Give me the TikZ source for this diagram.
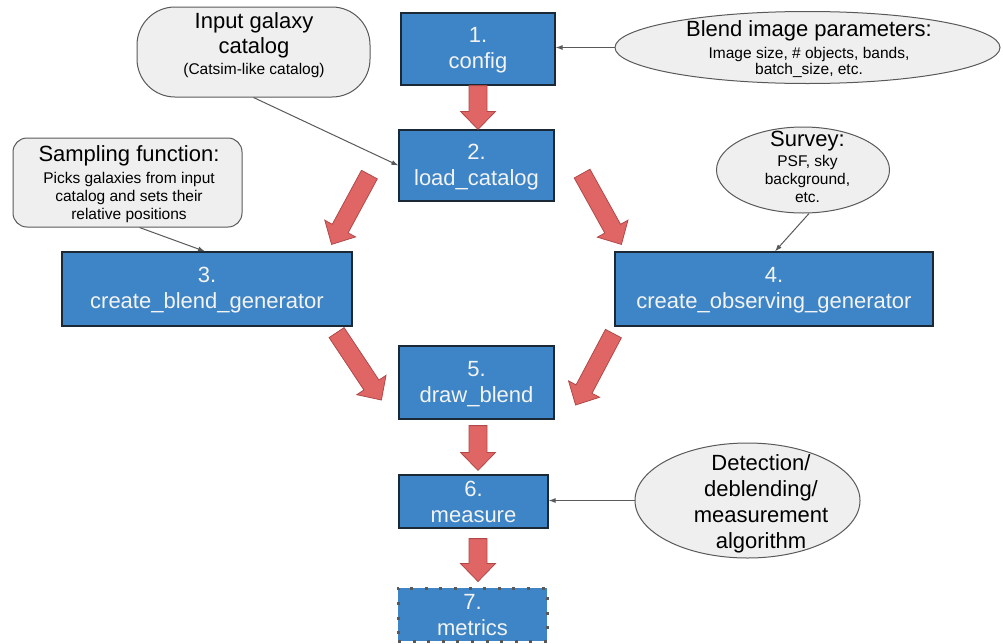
\documentclass[tikz,border=0pt]{standalone}
\usepackage{fontspec}
\setmainfont{Liberation Sans}
\usetikzlibrary{calc,shapes.geometric,arrows.meta}
\definecolor{boxblue}{HTML}{3D85C6}
\definecolor{boxedge}{HTML}{1B2836}
\definecolor{boxtext}{HTML}{F3F3F3}
\definecolor{fatfill}{HTML}{E06666}
\definecolor{fatedge}{HTML}{B04848}
\definecolor{callfill}{HTML}{EFEFEF}
\definecolor{calledge}{HTML}{595959}
\newcommand\bx{\rule[-2.2pt]{0pt}{20.7pt}}
\newcommand\sm{\fontsize{15.5}{18}\selectfont}
\newcommand\fatarrow[2]{%
  \path #1 coordinate (fas);
  \path #2 coordinate (fae);
  \path ($(fae)!18pt!(fas)$) coordinate (fac);
  \draw[fat] ($(fas)!9pt!90:(fae)$) -- ($(fac)!9pt!90:(fae)$) -- ($(fac)!17.5pt!90:(fae)$) -- (fae) -- ($(fac)!17.5pt!270:(fae)$) -- ($(fac)!9pt!270:(fae)$) -- ($(fas)!9pt!270:(fae)$) -- cycle;%
}
\tikzset{
  proc/.style 2 args={draw=boxedge, line width=1.2pt, fill=boxblue, text=boxtext, align=center, inner sep=0pt, minimum width=#1, minimum height=#2, font=\fontsize{22}{26}\selectfont},
  callrect/.style={draw=calledge, line width=1pt, fill=callfill},
  callell/.style={ellipse, draw=calledge, line width=1pt, fill=callfill, inner sep=0pt},
  calltext/.style={align=center, inner sep=0pt, text=black, font=\fontsize{22}{25}\selectfont},
  fat/.style={fill=fatfill, draw=fatedge, line width=0.8pt, line join=miter},
  thin/.style={draw=calledge, line width=1pt, -{Latex[length=7pt,width=5pt]}},
  dotborder/.style={draw=calledge, line width=3pt, dash pattern=on 3pt off 11.6pt},
}
\begin{document}
\begin{tikzpicture}[x=1pt,y=-1pt]
\useasboundingbox (0,0) rectangle (1003,643);
% callouts
\node[callrect, rounded corners=38pt, minimum width=233pt, minimum height=90pt] (incat) at (253.5,52) {};
\node[calltext] (incattext) at (254,45.5) {Input galaxy\\catalog\\[-4pt]{\sm (Catsim-like catalog)}};
\node[callell, minimum width=385pt, minimum height=72pt] (blendpar) at (807.5,47.5) {};
\node[calltext] (blendpartext) at (809,49.2) {Blend image parameters:\\[-3.4pt]{\sm Image size, \# objects, bands,}\\[-8.3pt]{\sm batch\_size, etc.}};
\node[callrect, rounded corners=14pt, minimum width=229pt, minimum height=89pt] (sampling) at (127.5,182.5) {};
\node[calltext] (samplingtext) at (129,184.2) {Sampling function:\\[-3pt]{\sm Picks galaxies from input}\\[-7pt]{\sm catalog and sets their}\\[-7pt]{\sm relative positions}};
\node[callell, minimum width=173pt, minimum height=86pt] (survey) at (803,170) {};
\node[calltext] (surveytext) at (807.5,167) {Survey:\\[-5pt]{\sm PSF, sky}\\[-6.7pt]{\sm background,}\\[-6.7pt]{\sm etc.}};
\node[callell, minimum width=225pt, minimum height=115pt] (detect) at (747.5,500.5) {};
\node[calltext, font=\fontsize{22}{26}\selectfont] (detecttext) at (761,504) {Detection/\\deblending/\\measurement\\algorithm};
% process boxes
\node[proc={154pt}{72pt}] (config) at (478,49) {\bx 1.\\\bx config};
\node[proc={155pt}{71pt}] (load) at (476.5,165.5) {\bx 2.\\\bx load\_catalog};
\node[proc={290pt}{74pt}] (blendgen) at (207,289) {\bx 3.\\\bx create\_blend\_generator};
\node[proc={318pt}{74pt}] (obsgen) at (774,289) {\bx 4.\\\bx create\_observing\_generator};
\node[proc={155pt}{73pt}] (drawb) at (476.5,382.5) {\bx 5.\\\bx draw\_blend};
\node[proc={149pt}{53pt}] (measure) at (473.5,501.5) {\bx 6.\\\bx measure};
\node[proc={149pt}{53pt}, dotborder] (metrics) at (472.5,614.5) {\bx 7.\\\bx metrics};
% thin connectors
\draw[thin] (incat.south) -- (load.west);
\draw[thin] (blendpar.west) -- (blendpar.west -| config.east);
\draw[thin] ($(sampling.south)+(12,0)$) -- ($(blendgen.north)+(-2,0)$);
\draw[thin] ($(survey.south)+(6,0)$) -- ($(obsgen.north)+(1,0)$);
\draw[thin] (detect.west) -- (detect.west -| measure.east);
% fat arrows
\fatarrow{(config.south)}{(config.south |- load.north)}
\fatarrow{($(load.south west)+(-29,-27)$)}{($(blendgen.north east)+(-21,-7)$)}
\fatarrow{($(load.south east)+(27.5,-28)$)}{($(obsgen.north west)+(7,-7)$)}
\fatarrow{($(blendgen.south east)+(-16,6)$)}{($(drawb.west)+(-17,17.5)$)}
\fatarrow{($(obsgen.south west)+(-1,7)$)}{($(drawb.east)+(21,22.5)$)}
\fatarrow{($(drawb.south)+(1.5,6)$)}{($(drawb.south |- measure.north)+(1.5,-4)$)}
\fatarrow{($(measure.south)+(4.5,10)$)}{($(measure.south |- metrics.north)+(4.5,-5)$)}
\end{tikzpicture}
\end{document}
